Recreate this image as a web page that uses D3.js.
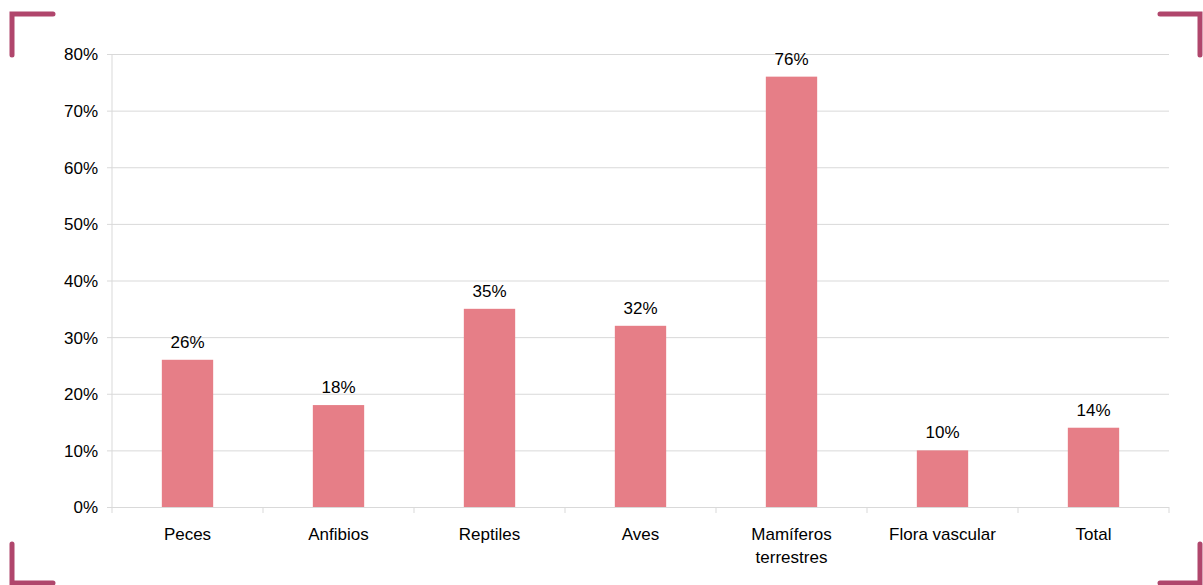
<!DOCTYPE html>
<html>
<head>
<meta charset="utf-8">
<script src="https://cdn.jsdelivr.net/npm/d3@7"></script>
<style>
  body { margin: 0; background: #fff; }
  text { font-family: "Liberation Sans", Arial, sans-serif; fill: #000; }
</style>
</head>
<body>
<div id="c1"></div>
<script>
// Data
var categories = ["Peces", "Anfibios", "Reptiles", "Aves", "Mamíferos terrestres", "Flora vascular", "Total"];
var values = [0.26, 0.18, 0.35, 0.32, 0.76, 0.10, 0.14];
var yTicks = [0, 0.1, 0.2, 0.3, 0.4, 0.5, 0.6, 0.7, 0.8];

var w = 1203;
var h = 585;
var plotLeft = 112, plotRight = 1169, plotTop = 54, plotBottom = 507;
var barColor = "#e67e87";
var gridColor = "#d9d9d9";
var frameColor = "#b0466c";

var svg = d3.select("#c1").append("svg")
    .attr("width", w)
    .attr("height", h);

var x = d3.scaleBand()
    .domain(categories)
    .range([plotLeft, plotRight])
    .paddingInner(0.66)
    .paddingOuter(0.33);

var xb = d3.scaleBand().domain(categories).range([plotLeft, plotRight]);

var y = d3.scaleLinear()
    .domain([0, 0.8])
    .range([plotBottom, plotTop]);

var fmt = d3.format(".0%");

// Gridlines + y labels
var yAxis = svg.append("g")
    .attr("transform", "translate(" + plotLeft + ",0)")
    .call(d3.axisLeft(y).tickValues(yTicks).tickFormat(fmt)
        .tickSize(-(plotRight - plotLeft)).tickPadding(0));
yAxis.select(".domain").remove();
yAxis.selectAll(".tick line")
    .attr("stroke", gridColor)
    .attr("x1", -5);
yAxis.selectAll(".tick text")
    .attr("x", -14)
    .attr("dy", "0.35em")
    .attr("fill", "#000")
    .style("font-size", "17px")
    .style("font-family", "Liberation Sans, Arial, sans-serif");

// vertical axis line
svg.append("line")
    .attr("x1", plotLeft).attr("x2", plotLeft)
    .attr("y1", plotTop).attr("y2", plotBottom)
    .attr("stroke", gridColor);

// category ticks on x axis
var bounds = categories.map(function (d) { return xb(d); }).concat([plotRight]);
svg.selectAll("line.xtick")
    .data(bounds)
    .enter()
    .append("line")
    .attr("class", "xtick")
    .attr("x1", function (d) { return d; })
    .attr("x2", function (d) { return d; })
    .attr("y1", plotBottom)
    .attr("y2", plotBottom + 6)
    .attr("stroke", gridColor);

// Bars
svg.selectAll("rect.bar")
    .data(values)
    .enter()
    .append("rect")
    .attr("class", "bar")
    .attr("x", function (d, i) { return x(categories[i]); })
    .attr("width", x.bandwidth())
    .attr("y", function (d) { return y(d); })
    .attr("height", function (d) { return plotBottom - y(d); })
    .attr("fill", barColor);

// Value labels
svg.selectAll("text.val")
    .data(values)
    .enter()
    .append("text")
    .attr("class", "val")
    .attr("x", function (d, i) { return x(categories[i]) + x.bandwidth() / 2; })
    .attr("y", function (d) { return y(d) - 12; })
    .attr("text-anchor", "middle")
    .style("font-size", "17px")
    .text(function (d) { return fmt(d); });

// Category labels (wrap on space for long names)
svg.selectAll("text.cat")
    .data(categories)
    .enter()
    .append("text")
    .attr("class", "cat")
    .attr("x", function (d) { return xb(d) + xb.bandwidth() / 2; })
    .attr("y", 540)
    .attr("text-anchor", "middle")
    .style("font-size", "17px")
    .each(function (d) {
        var lines = d.length > 16 ? d.split(" ") : [d];
        var t = d3.select(this);
        lines.forEach(function (l, i) {
            t.append("tspan")
                .attr("x", t.attr("x"))
                .attr("dy", i == 0 ? 0 : 23)
                .text(l);
        });
    });

// Corner brackets
var corners = [
    [[53, 14], [12, 14], [12, 55]],
    [[1160, 14], [1200, 14], [1200, 55]],
    [[12, 544], [12, 583], [53, 583]],
    [[1200, 544], [1200, 583], [1160, 583]]
];
svg.selectAll("path.corner")
    .data(corners)
    .enter()
    .append("path")
    .attr("class", "corner")
    .attr("d", d3.line())
    .attr("fill", "none")
    .attr("stroke", frameColor)
    .attr("stroke-width", 5)
    .attr("stroke-linecap", "round");
</script>
</body>
</html>
